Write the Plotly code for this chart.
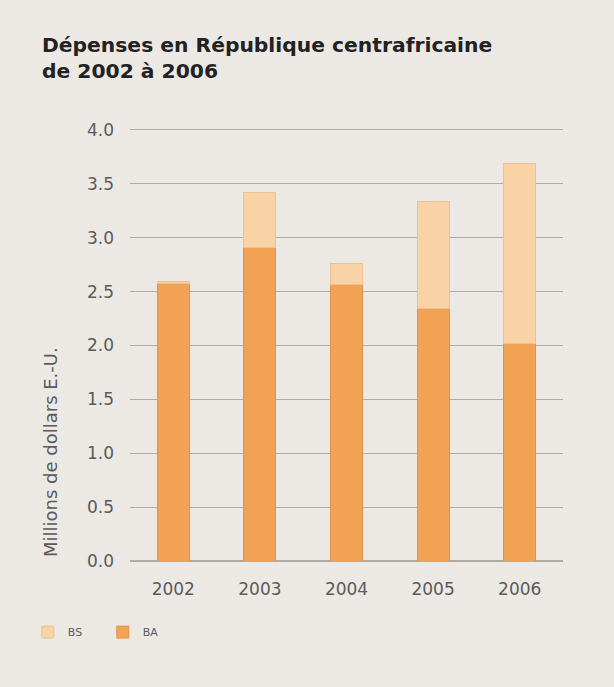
import plotly.graph_objects as go

years = ["2002", "2003", "2004", "2005", "2006"]
ba = [2.58, 2.91, 2.57, 2.34, 2.02]
bs_total = [2.59, 3.42, 2.76, 3.34, 3.69]
bs = [round(t - b, 2) for t, b in zip(bs_total, ba)]

ba_color = "#f2a254"
bs_color = "#f9d3a6"
bg = "#ece9e5"
grid = "#afaba7"
fam = "DejaVu Sans"

fig = go.Figure()
fig.add_trace(go.Bar(x=years, y=ba, name="BA", marker=dict(color=ba_color, line=dict(color="#e0924a", width=1))))
fig.add_trace(go.Bar(x=years, y=bs, name="BS", marker=dict(color=bs_color, line=dict(color="#ecc090", width=1))))

fig.update_layout(
    width=614, height=687,
    barmode="stack", bargap=0.63,
    paper_bgcolor=bg, plot_bgcolor=bg,
    margin=dict(l=130, r=51, t=130, b=126),
    title=dict(text="Dépenses en République centrafricaine<br>de 2002 à 2006",
               x=42/614, xanchor="left", y=1-52/687, yanchor="top",
               font=dict(family=fam, size=20.3, color="#222222", weight="bold")),
    font=dict(family=fam, color="#5a5a5a"),
    showlegend=True,
    legend=dict(orientation="h", traceorder="reversed", x=-0.236, xanchor="left", y=-0.165, yanchor="middle",
                entrywidth=30, entrywidthmode="pixels",
                font=dict(size=11, color="#5a5a5a"), bgcolor="rgba(0,0,0,0)"),
    yaxis=dict(range=[0, 4.0], dtick=0.5, tickformat=".1f", showgrid=True, gridcolor=grid, gridwidth=1,
               zeroline=True, zerolinecolor=grid, tickfont=dict(size=17, color="#5a5a5a"),
               ticks="", ticklabelstandoff=15),
    xaxis=dict(tickfont=dict(size=17, color="#5a5a5a"), showgrid=False, ticks="", ticklabelstandoff=13,
               showline=True, mirror=True, linecolor=grid, linewidth=1),
    annotations=[dict(text="Millions de dollars E.-U.", textangle=-90, xref="paper", yref="paper",
                      x=-(130 - 50) / 433, y=(561 - 452) / 431, xanchor="center", yanchor="middle",
                      showarrow=False, font=dict(size=18, color="#5a5a5a"))],
)

fig.write_html("out.html", config={"displayModeBar": False}, post_script="document.body.style.margin='0';")
